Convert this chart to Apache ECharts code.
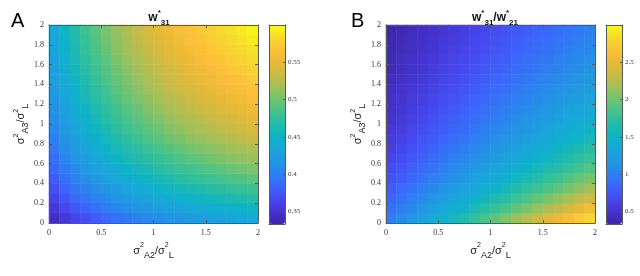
<!DOCTYPE html>
<html><head><meta charset="utf-8">
<script src="https://cdn.jsdelivr.net/npm/echarts@6/dist/echarts.min.js"></script>
<style>html,body{margin:0;padding:0;background:#fff}#c{width:640px;height:276px}</style>
</head><body><div id="c"></div>
<script>
// cell centres on both axes (σ²/σ²_L)
const cellCenters = ['0.05','0.15','0.25','0.35','0.45','0.55','0.65','0.75','0.85','0.95','1.05','1.15','1.25','1.35','1.45','1.55','1.65','1.75','1.85','1.95'];
const xTickValues = [0, 0.5, 1, 1.5, 2];
const yTickValues = [0, 0.2, 0.4, 0.6, 0.8, 1, 1.2, 1.4, 1.6, 1.8, 2];
const cbarTicksA = [0.35, 0.4, 0.45, 0.5, 0.55];
const cbarTicksB = [0.5, 1, 1.5, 2, 2.5];
const rangeA = [0.3333, 0.6];
const rangeB = [0.3333, 3];

// panel A: w*31, rows = y (σ²A3/σ²L) from bottom, columns = x (σ²A2/σ²L)
const w31 = [
[0.344,0.354,0.363,0.371,0.378,0.385,0.391,0.396,0.401,0.406,0.410,0.414,0.417,0.421,0.424,0.427,0.429,0.432,0.434,0.436],
[0.354,0.365,0.375,0.383,0.391,0.398,0.404,0.410,0.415,0.420,0.424,0.428,0.432,0.436,0.439,0.442,0.445,0.448,0.450,0.453],
[0.363,0.375,0.385,0.394,0.402,0.409,0.416,0.422,0.427,0.432,0.437,0.441,0.446,0.449,0.453,0.456,0.459,0.462,0.465,0.468],
[0.371,0.383,0.394,0.403,0.411,0.419,0.426,0.432,0.438,0.444,0.449,0.453,0.458,0.462,0.465,0.469,0.472,0.475,0.478,0.481],
[0.378,0.391,0.402,0.411,0.420,0.428,0.436,0.442,0.448,0.454,0.459,0.464,0.469,0.473,0.477,0.480,0.484,0.487,0.490,0.493],
[0.385,0.398,0.409,0.419,0.428,0.437,0.444,0.451,0.458,0.463,0.469,0.474,0.479,0.483,0.487,0.491,0.494,0.498,0.501,0.504],
[0.391,0.404,0.416,0.426,0.436,0.444,0.452,0.459,0.466,0.472,0.478,0.483,0.488,0.492,0.496,0.500,0.504,0.508,0.511,0.514],
[0.396,0.410,0.422,0.432,0.442,0.451,0.459,0.467,0.473,0.480,0.486,0.491,0.496,0.501,0.505,0.509,0.513,0.517,0.520,0.523],
[0.401,0.415,0.427,0.438,0.448,0.458,0.466,0.473,0.481,0.487,0.493,0.499,0.504,0.509,0.513,0.517,0.521,0.525,0.529,0.532],
[0.406,0.420,0.432,0.444,0.454,0.463,0.472,0.480,0.487,0.494,0.500,0.506,0.511,0.516,0.521,0.525,0.529,0.533,0.537,0.540],
[0.410,0.424,0.437,0.449,0.459,0.469,0.478,0.486,0.493,0.500,0.506,0.512,0.518,0.523,0.527,0.532,0.536,0.540,0.544,0.547],
[0.414,0.428,0.441,0.453,0.464,0.474,0.483,0.491,0.499,0.506,0.512,0.518,0.524,0.529,0.534,0.538,0.543,0.547,0.551,0.554],
[0.417,0.432,0.446,0.458,0.469,0.479,0.488,0.496,0.504,0.511,0.518,0.524,0.529,0.535,0.540,0.544,0.549,0.553,0.557,0.561],
[0.421,0.436,0.449,0.462,0.473,0.483,0.492,0.501,0.509,0.516,0.523,0.529,0.535,0.540,0.545,0.550,0.555,0.559,0.563,0.567],
[0.424,0.439,0.453,0.465,0.477,0.487,0.496,0.505,0.513,0.521,0.527,0.534,0.540,0.545,0.551,0.555,0.560,0.564,0.568,0.572],
[0.427,0.442,0.456,0.469,0.480,0.491,0.500,0.509,0.517,0.525,0.532,0.538,0.544,0.550,0.555,0.560,0.565,0.570,0.574,0.578],
[0.429,0.445,0.459,0.472,0.484,0.494,0.504,0.513,0.521,0.529,0.536,0.543,0.549,0.555,0.560,0.565,0.570,0.574,0.579,0.583],
[0.432,0.448,0.462,0.475,0.487,0.498,0.508,0.517,0.525,0.533,0.540,0.547,0.553,0.559,0.564,0.570,0.574,0.579,0.583,0.587],
[0.434,0.450,0.465,0.478,0.490,0.501,0.511,0.520,0.529,0.537,0.544,0.551,0.557,0.563,0.568,0.574,0.579,0.583,0.588,0.592],
[0.436,0.453,0.468,0.481,0.493,0.504,0.514,0.523,0.532,0.540,0.547,0.554,0.561,0.567,0.572,0.578,0.583,0.587,0.592,0.596]
];

// panel B: w*31 / w*21
const ratio = [
[1.000,1.095,1.190,1.286,1.381,1.476,1.571,1.667,1.762,1.857,1.952,2.048,2.143,2.238,2.333,2.429,2.524,2.619,2.714,2.810],
[0.913,1.000,1.087,1.174,1.261,1.348,1.435,1.522,1.609,1.696,1.783,1.870,1.957,2.043,2.130,2.217,2.304,2.391,2.478,2.565],
[0.840,0.920,1.000,1.080,1.160,1.240,1.320,1.400,1.480,1.560,1.640,1.720,1.800,1.880,1.960,2.040,2.120,2.200,2.280,2.360],
[0.778,0.852,0.926,1.000,1.074,1.148,1.222,1.296,1.370,1.444,1.519,1.593,1.667,1.741,1.815,1.889,1.963,2.037,2.111,2.185],
[0.724,0.793,0.862,0.931,1.000,1.069,1.138,1.207,1.276,1.345,1.414,1.483,1.552,1.621,1.690,1.759,1.828,1.897,1.966,2.034],
[0.677,0.742,0.806,0.871,0.935,1.000,1.065,1.129,1.194,1.258,1.323,1.387,1.452,1.516,1.581,1.645,1.710,1.774,1.839,1.903],
[0.636,0.697,0.758,0.818,0.879,0.939,1.000,1.061,1.121,1.182,1.242,1.303,1.364,1.424,1.485,1.545,1.606,1.667,1.727,1.788],
[0.600,0.657,0.714,0.771,0.829,0.886,0.943,1.000,1.057,1.114,1.171,1.229,1.286,1.343,1.400,1.457,1.514,1.571,1.629,1.686],
[0.568,0.622,0.676,0.730,0.784,0.838,0.892,0.946,1.000,1.054,1.108,1.162,1.216,1.270,1.324,1.378,1.432,1.486,1.541,1.595],
[0.538,0.590,0.641,0.692,0.744,0.795,0.846,0.897,0.949,1.000,1.051,1.103,1.154,1.205,1.256,1.308,1.359,1.410,1.462,1.513],
[0.512,0.561,0.610,0.659,0.707,0.756,0.805,0.854,0.902,0.951,1.000,1.049,1.098,1.146,1.195,1.244,1.293,1.341,1.390,1.439],
[0.488,0.535,0.581,0.628,0.674,0.721,0.767,0.814,0.860,0.907,0.953,1.000,1.047,1.093,1.140,1.186,1.233,1.279,1.326,1.372],
[0.467,0.511,0.556,0.600,0.644,0.689,0.733,0.778,0.822,0.867,0.911,0.956,1.000,1.044,1.089,1.133,1.178,1.222,1.267,1.311],
[0.447,0.489,0.532,0.574,0.617,0.660,0.702,0.745,0.787,0.830,0.872,0.915,0.957,1.000,1.043,1.085,1.128,1.170,1.213,1.255],
[0.429,0.469,0.510,0.551,0.592,0.633,0.673,0.714,0.755,0.796,0.837,0.878,0.918,0.959,1.000,1.041,1.082,1.122,1.163,1.204],
[0.412,0.451,0.490,0.529,0.569,0.608,0.647,0.686,0.725,0.765,0.804,0.843,0.882,0.922,0.961,1.000,1.039,1.078,1.118,1.157],
[0.396,0.434,0.472,0.509,0.547,0.585,0.623,0.660,0.698,0.736,0.774,0.811,0.849,0.887,0.925,0.962,1.000,1.038,1.075,1.113],
[0.382,0.418,0.455,0.491,0.527,0.564,0.600,0.636,0.673,0.709,0.745,0.782,0.818,0.855,0.891,0.927,0.964,1.000,1.036,1.073],
[0.368,0.404,0.439,0.474,0.509,0.544,0.579,0.614,0.649,0.684,0.719,0.754,0.789,0.825,0.860,0.895,0.930,0.965,1.000,1.035],
[0.356,0.390,0.424,0.458,0.492,0.525,0.559,0.593,0.627,0.661,0.695,0.729,0.763,0.797,0.831,0.864,0.898,0.932,0.966,1.000]
];

const parula = ['#3e26a8','#4433cf','#4748f0','#3d64fb','#2d7ff2','#2296e3','#1aa5db','#0db2c8','#22bbaa','#40c28f','#6ec371','#a0c05a','#c8bb46','#e9b935','#fdc03b','#f6d82e','#f9fb15'];

function toCells(rows) {
  const d = [];
  rows.forEach((r, j) => r.forEach((v, i) => d.push([i, j, v])));
  return d;
}

const LC = '#5a5a5a';
const tickFont = { fontSize: 8, fontFamily: 'Liberation Serif', color: '#333' };
const nameRich = {
  s: { fontSize: 11, fontFamily: 'Liberation Sans', color: '#222', lineHeight: 18 },
  p: { fontSize: 7, fontFamily: 'Liberation Sans', color: '#222', verticalAlign: 'top' },
  b: { fontSize: 9, fontFamily: 'Liberation Sans', color: '#222', verticalAlign: 'bottom' }
};
const xName = '{s|σ}{p|2}{b|A2}{s|/σ}{p|2}{b|L}';
const yName = '{s|σ}{p|2}{b|A3}{s|/σ}{p|2}{b|L}';

function catAxis(grid, pos) {
  return { type: 'category', gridIndex: grid, position: pos, data: cellCenters, show: false };
}
function valAxis(grid, pos, min, max, opts) {
  const o = Object.assign({
    type: 'value', gridIndex: grid, position: pos, min: min, max: max, z: 10,
    axisLine: { show: true, onZero: false, lineStyle: { color: LC, width: 1 } },
    axisTick: { show: false },
    axisLabel: { show: false },
    splitLine: { show: false }
  }, opts || {});
  return o;
}
const inTick = { show: true, inside: true, length: 3, lineStyle: { color: LC } };

function plotXAxis(grid) {
  return valAxis(grid, 'bottom', 0, 2, {
    interval: 0.5, axisTick: inTick,
    axisLabel: Object.assign({ show: true, margin: 6 }, tickFont),
    name: xName, nameLocation: 'middle', nameGap: 18,
    nameTextStyle: { rich: nameRich }
  });
}
function plotYAxis(grid) {
  return valAxis(grid, 'left', 0, 2, {
    interval: 0.2, axisTick: inTick,
    axisLabel: Object.assign({ show: true, margin: 5 }, tickFont),
    name: yName, nameLocation: 'middle', nameGap: 17,
    nameTextStyle: { rich: nameRich }
  });
}
function cbarAxis(grid, range, ticks) {
  return valAxis(grid, 'right', range[0], range[1], {
    axisTick: Object.assign({ customValues: ticks }, inTick, { length: 2 }),
    axisLabel: Object.assign({ show: true, margin: 3, customValues: ticks }, tickFont, { fontSize: 7 })
  });
}

const option = {
  animation: false,
  backgroundColor: '#fff',
  title: [
    { text: '{w|w}{p|*}{b|31}', left: 154, top: 4, textAlign: 'center',
      textStyle: { rich: {
        w: { fontSize: 12, fontWeight: 'bold', fontFamily: 'Liberation Sans', color: '#111', lineHeight: 18 },
        p: { fontSize: 8, fontWeight: 'bold', fontFamily: 'Liberation Sans', color: '#111', verticalAlign: 'top' },
        b: { fontSize: 8, fontWeight: 'bold', fontFamily: 'Liberation Sans', color: '#111', verticalAlign: 'bottom' } } } },
    { text: '{w|w}{p|*}{b|31}{w|/w}{p|*}{b|21}', left: 490, top: 4, textAlign: 'center',
      textStyle: { rich: {
        w: { fontSize: 12, fontWeight: 'bold', fontFamily: 'Liberation Sans', color: '#111', lineHeight: 18 },
        p: { fontSize: 8, fontWeight: 'bold', fontFamily: 'Liberation Sans', color: '#111', verticalAlign: 'top' },
        b: { fontSize: 8, fontWeight: 'bold', fontFamily: 'Liberation Sans', color: '#111', verticalAlign: 'bottom' } } } }
  ],
  graphic: [
    { type: 'text', left: 11, top: 11, style: { text: 'A', fontSize: 20, fontFamily: 'Liberation Sans', fill: '#000' } },
    { type: 'text', left: 351, top: 11, style: { text: 'B', fontSize: 20, fontFamily: 'Liberation Sans', fill: '#000' } }
  ],
  grid: [
    { left: 49, top: 25, width: 209, height: 198, outerBoundsMode: 'none' },
    { left: 386, top: 25, width: 209, height: 198, outerBoundsMode: 'none' },
    { left: 269, top: 25, width: 16, height: 199, outerBoundsMode: 'none' },
    { left: 606, top: 25, width: 16, height: 199, outerBoundsMode: 'none' }
  ],
  xAxis: [
    catAxis(0, 'bottom'), plotXAxis(0), valAxis(0, 'top', 0, 2, { interval: 0.5, axisTick: inTick }),
    catAxis(1, 'bottom'), plotXAxis(1), valAxis(1, 'top', 0, 2, { interval: 0.5, axisTick: inTick }),
    valAxis(2, 'bottom', 0, 1), valAxis(2, 'top', 0, 1),
    valAxis(3, 'bottom', 0, 1), valAxis(3, 'top', 0, 1)
  ],
  yAxis: [
    catAxis(0, 'left'), plotYAxis(0), valAxis(0, 'right', 0, 2, { interval: 0.2, axisTick: inTick }),
    catAxis(1, 'left'), plotYAxis(1), valAxis(1, 'right', 0, 2, { interval: 0.2, axisTick: inTick }),
    valAxis(2, 'left', rangeA[0], rangeA[1]), cbarAxis(2, rangeA, cbarTicksA),
    valAxis(3, 'left', rangeB[0], rangeB[1]), cbarAxis(3, rangeB, cbarTicksB)
  ],
  visualMap: [
    { type: 'continuous', seriesIndex: 0, min: rangeA[0], max: rangeA[1], inRange: { color: parula },
      left: 269, top: 25, itemWidth: 16, itemHeight: 199, calculable: false, padding: 0, hoverLink: false },
    { type: 'continuous', seriesIndex: 1, min: rangeB[0], max: rangeB[1], inRange: { color: parula },
      left: 606, top: 25, itemWidth: 16, itemHeight: 199, calculable: false, padding: 0, hoverLink: false }
  ],
  series: [
    { type: 'heatmap', xAxisIndex: 0, yAxisIndex: 0, data: toCells(w31), emphasis: { disabled: true } },
    { type: 'heatmap', xAxisIndex: 3, yAxisIndex: 3, data: toCells(ratio), emphasis: { disabled: true } }
  ]
};
const chart = echarts.init(document.getElementById('c'), null, { renderer: 'canvas' });
chart.setOption(option);
</script></body></html>
